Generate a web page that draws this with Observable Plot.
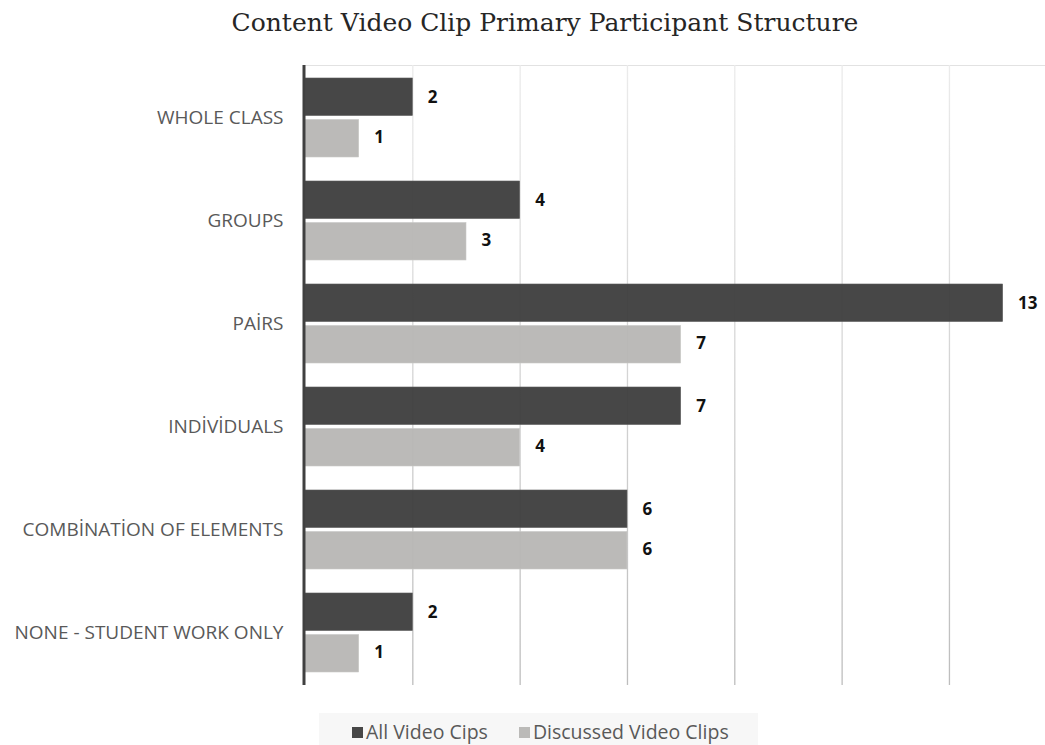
<!DOCTYPE html>
<html>
<head>
<meta charset="utf-8">
<script src="https://cdn.jsdelivr.net/npm/d3@7"></script>
<script src="https://cdn.jsdelivr.net/npm/@observablehq/plot@0.6"></script>
<style>
  body { margin: 0; background: #fff; }
  #wrap { position: relative; width: 1045px; height: 745px; overflow: hidden; }
  #title { position: absolute; left: 0; top: 8px; width: 1090px; text-align: center;
           font-family: "DejaVu Serif", serif; font-size: 25px; color: #262626; }
  #legend { position: absolute; left: 319px; top: 713px; width: 406px; height: 38px; padding-left: 33px;
            background: #f7f7f7; font-family: "Open Sans", sans-serif; font-size: 19.5px; color: #595959;
            display: flex; align-items: flex-start; gap: 31px; white-space: nowrap; line-height: 38px; }
  .sw { display: inline-block; width: 11px; height: 11px; margin-right: 3px; vertical-align: 1px; }
  #chart { position: absolute; left: 0; top: 0; }
</style>
</head>
<body>
<div id="wrap">
  <div id="chart"></div>
  <div id="title">Content Video Clip Primary Participant Structure</div>
  <div id="legend"></div>
</div>
<script>
const categories = ["WHOLE CLASS", "GROUPS", "PAİRS", "INDİVİDUALS", "COMBİNATİON OF ELEMENTS", "NONE - STUDENT WORK ONLY"];
const seriesNames = ["All Video Cips", "Discussed Video Clips"];
const allClips = [2, 4, 13, 7, 6, 2];
const discussedClips = [1, 3, 7, 4, 6, 1];
const gridTicks = [2, 4, 6, 8, 10, 12];
const colors = ["#3d3d3d", "#b7b6b4"];
const legendColors = ["#474747", "#bbbab8"];

const allData = categories.map((c, i) => ({category: c, value: allClips[i]}));
const discData = categories.map((c, i) => ({category: c, value: discussedClips[i]}));

const plot = Plot.plot({
  width: 1045,
  height: 745,
  marginLeft: 305,
  marginRight: 0,
  marginTop: 65,
  marginBottom: 60,
  x: {domain: [0, 13.79], axis: null},
  y: {domain: categories, paddingInner: 0.23, paddingOuter: 0.12, label: null, axis: null},
  style: {fontFamily: "Open Sans, sans-serif", fontSize: "15px", color: "#595959", background: "transparent"},
  marks: [
    Plot.frame({anchor: "top", stroke: "#e2e2e2"}),
    Plot.ruleX(gridTicks, {stroke: "url(#gridgrad)", strokeWidth: 1.3}),
    Plot.barX(allData, {x: "value", y: "category", fill: colors[0], fillOpacity: 0.95, stroke: "#5a5a5a", strokeWidth: 0.6, insetBottom: 41.5, insetTop: 0}),
    Plot.barX(discData, {x: "value", y: "category", fill: colors[1], fillOpacity: 0.95, stroke: "#c8c8c6", strokeWidth: 0.6, insetTop: 41.5, insetBottom: 0}),
    Plot.ruleX([0], {stroke: "#404040", strokeWidth: 3, dx: -1.5}),
    Plot.text(allData, {x: "value", y: "category", text: d => String(d.value), dx: 15, dy: -20, textAnchor: "start", fill: "#111", fontWeight: "bold", fontSize: 17}),
    Plot.text(discData, {x: "value", y: "category", text: d => String(d.value), dx: 15, dy: 20, textAnchor: "start", fill: "#111", fontWeight: "bold", fontSize: 17}),
    Plot.axisY({tickSize: 0, tickPadding: 22, fontSize: 19, fill: "#595959", label: null})
  ]
});

// gradient for gridlines (lighter at top, darker at bottom)
const ns = "http://www.w3.org/2000/svg";
const defs = document.createElementNS(ns, "defs");
const grad = document.createElementNS(ns, "linearGradient");
grad.setAttribute("id", "gridgrad");
grad.setAttribute("gradientUnits", "userSpaceOnUse");
grad.setAttribute("x1", "0"); grad.setAttribute("x2", "0");
grad.setAttribute("y1", "65"); grad.setAttribute("y2", "685");
[["0", "#ebebeb"], ["1", "#bdbdbd"]].forEach(([o, c]) => {
  const s = document.createElementNS(ns, "stop");
  s.setAttribute("offset", o); s.setAttribute("stop-color", c);
  grad.appendChild(s);
});
defs.appendChild(grad);
plot.insertBefore(defs, plot.firstChild);
document.getElementById("chart").appendChild(plot);

const legend = document.getElementById("legend");
seriesNames.forEach((name, i) => {
  const item = document.createElement("span");
  item.innerHTML = `<span class="sw" style="background:${legendColors[i]}"></span>${name}`;
  legend.appendChild(item);
});
</script>
</body>
</html>
